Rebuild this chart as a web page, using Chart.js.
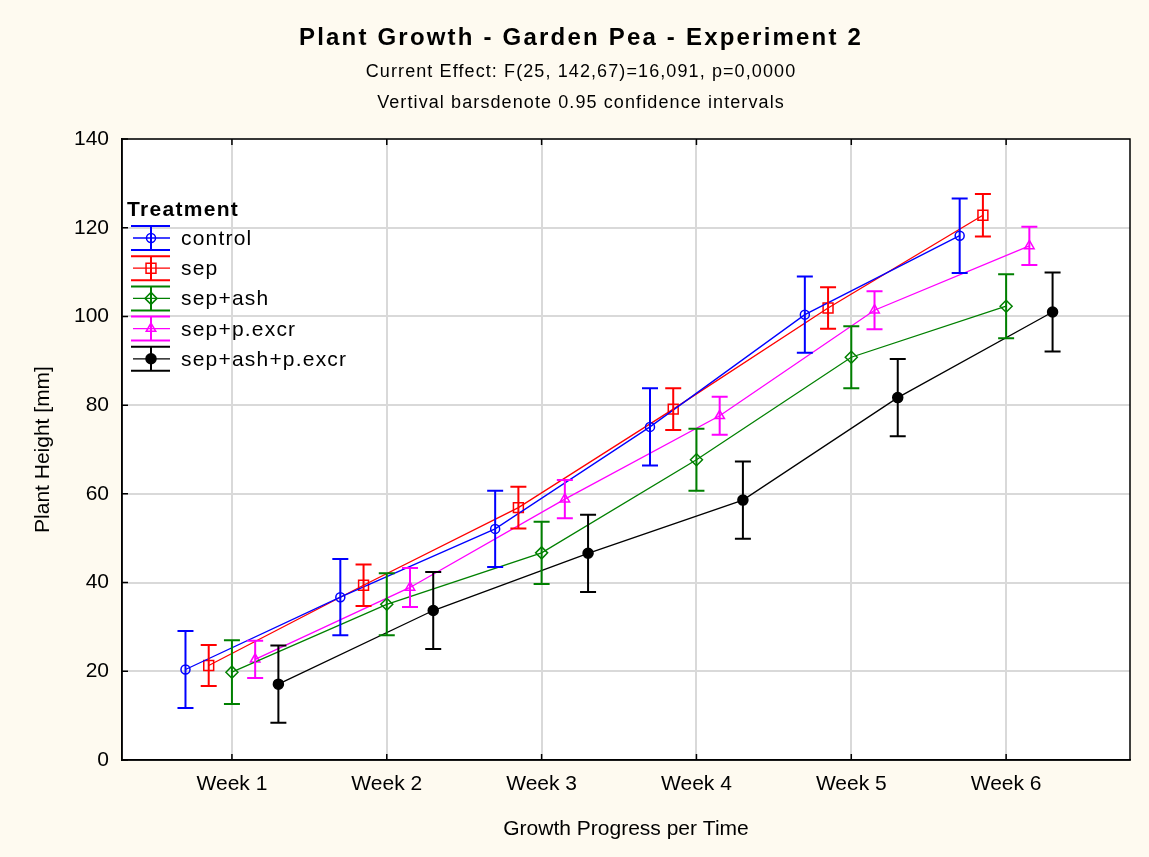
<!DOCTYPE html>
<html>
<head>
<meta charset="utf-8">
<script src="https://cdn.jsdelivr.net/npm/chart.js@4.4.1/dist/chart.umd.min.js"></script>
<style>
  html, body { margin: 0; padding: 0; background: #fefaf0; }
</style>
</head>
<body>
<canvas id="myChart" width="1149" height="857"></canvas>
<script>
let weeks = ['Week 1', 'Week 2', 'Week 3', 'Week 4', 'Week 5', 'Week 6']
let treatments = ['control', 'sep', 'sep+ash', 'sep+p.excr', 'sep+ash+p.excr']

// means and half widths of the 0.95 confidence intervals
let controlMean = [20.4, 36.7, 52.1, 75.1, 100.4, 118.2]
let controlCI = [8.7, 8.6, 8.6, 8.7, 8.6, 8.4]
let sepMean = [21.3, 39.4, 56.9, 79.1, 101.9, 122.8]
let sepCI = [4.6, 4.7, 4.7, 4.7, 4.7, 4.8]
let sepAshMean = [19.8, 35.1, 46.7, 67.7, 90.8, 102.3]
let sepAshCI = [7.2, 7.0, 7.0, 7.0, 7.0, 7.2]
let sepExcrMean = [22.7, 38.9, 58.8, 77.6, 101.4, 115.9]
let sepExcrCI = [4.2, 4.4, 4.3, 4.3, 4.3, 4.3]
let allMean = [17.1, 33.7, 46.6, 58.6, 81.7, 101.0]
let allCI = [8.7, 8.7, 8.7, 8.7, 8.7, 8.9]

let yTicks = [0, 20, 40, 60, 80, 100, 120, 140]

let titleText = 'Plant Growth - Garden Pea - Experiment 2'
let subtitleText = ['Current Effect: F(25, 142,67)=16,091, p=0,0000', 'Vertival barsdenote 0.95 confidence intervals']

let means = [controlMean, sepMean, sepAshMean, sepExcrMean, allMean]
let cis = [controlCI, sepCI, sepAshCI, sepExcrCI, allCI]
let colors = ['#0000ff', '#ff0000', '#008000', '#ff00ff', '#000000']
let styles = ['circle', 'rect', 'rectRot', 'triangle', 'circle']
let radii = [4.5, 7, 6, 5.5, 5]
let fills = ['rgba(0,0,0,0)', 'rgba(0,0,0,0)', 'rgba(0,0,0,0)', 'rgba(0,0,0,0)', '#000000']
let shift = [-0.3, -0.15, 0, 0.15, 0.3]

const FONT = "'Liberation Sans', Arial, sans-serif"
Chart.defaults.font.family = FONT
Chart.defaults.color = '#000'

let datasets = treatments.map((name, k) => ({
    label: name,
    data: means[k].map((m, i) => ({ x: i + 1 + shift[k], y: m })),
    borderColor: colors[k],
    backgroundColor: fills[k],
    borderWidth: 1.3,
    pointStyle: styles[k],
    pointRadius: radii[k],
    pointBorderWidth: 1.5,
    pointBorderColor: colors[k],
    pointBackgroundColor: fills[k],
    tension: 0
}))

function marker(ctx, style, x, y, r) {
    ctx.beginPath()
    if (style === 'circle') {
        ctx.arc(x, y, r, 0, Math.PI * 2)
    } else if (style === 'rect') {
        let s = r * Math.SQRT1_2
        ctx.rect(x - s, y - s, 2 * s, 2 * s)
    } else if (style === 'rectRot') {
        ctx.moveTo(x, y - r); ctx.lineTo(x + r, y); ctx.lineTo(x, y + r); ctx.lineTo(x - r, y)
    } else {
        let a = 0
        ctx.moveTo(x + Math.sin(a) * r, y - Math.cos(a) * r)
        a += Math.PI * 2 / 3
        ctx.lineTo(x + Math.sin(a) * r, y - Math.cos(a) * r)
        a += Math.PI * 2 / 3
        ctx.lineTo(x + Math.sin(a) * r, y - Math.cos(a) * r)
    }
    ctx.closePath()
}

const background = {
    id: 'background',
    beforeDraw(chart) {
        let { ctx, chartArea: a } = chart
        ctx.save()
        ctx.fillStyle = '#fefaf0'
        ctx.fillRect(0, 0, chart.width, chart.height)
        ctx.fillStyle = '#ffffff'
        ctx.fillRect(a.left, a.top, a.right - a.left, a.bottom - a.top)
        ctx.restore()
    }
}

const errorBars = {
    id: 'errorBars',
    afterDatasetsDraw(chart) {
        let ctx = chart.ctx
        let y = chart.scales.y
        ctx.save()
        ctx.lineWidth = 2
        chart.data.datasets.forEach((ds, k) => {
            let meta = chart.getDatasetMeta(k)
            ctx.strokeStyle = colors[k]
            meta.data.forEach((pt, i) => {
                let top = y.getPixelForValue(means[k][i] + cis[k][i])
                let bot = y.getPixelForValue(means[k][i] - cis[k][i])
                ctx.beginPath()
                ctx.moveTo(pt.x, top); ctx.lineTo(pt.x, bot)
                ctx.moveTo(pt.x - 8, top); ctx.lineTo(pt.x + 8, top)
                ctx.moveTo(pt.x - 8, bot); ctx.lineTo(pt.x + 8, bot)
                ctx.stroke()
            })
        })
        ctx.restore()
    }
}

const frameAndText = {
    id: 'frameAndText',
    afterDraw(chart) {
        let { ctx, chartArea: a } = chart
        let x = chart.scales.x, y = chart.scales.y
        ctx.save()
        // frame and inner tick marks
        ctx.strokeStyle = '#000'
        ctx.lineWidth = 1.5
        ctx.strokeRect(a.left, a.top, a.right - a.left, a.bottom - a.top)
        ctx.beginPath()
        weeks.forEach((w, i) => {
            let px = x.getPixelForValue(i + 1)
            ctx.moveTo(px, a.bottom); ctx.lineTo(px, a.bottom - 6)
            ctx.moveTo(px, a.top); ctx.lineTo(px, a.top + 6)
        })
        yTicks.forEach(v => {
            let py = y.getPixelForValue(v)
            ctx.moveTo(a.left, py); ctx.lineTo(a.left + 6, py)
        })
        ctx.stroke()

        // titles
        ctx.fillStyle = '#000'
        ctx.textAlign = 'center'
        ctx.textBaseline = 'alphabetic'
        ctx.font = 'bold 24px ' + FONT
        ctx.letterSpacing = '2.2px'
        ctx.fillText(titleText, 581, 45)
        ctx.font = '18px ' + FONT
        ctx.letterSpacing = '1.1px'
        subtitleText.forEach((t, i) => ctx.fillText(t, 581, 77 + i * 31))

        // legend
        ctx.textAlign = 'left'
        ctx.font = 'bold 21px ' + FONT
        ctx.letterSpacing = '1.3px'
        ctx.fillText('Treatment', 127, 216)
        ctx.font = '21px ' + FONT
        ctx.letterSpacing = '1.2px'
        treatments.forEach((name, k) => {
            let cy = 238 + k * 30.2
            ctx.strokeStyle = colors[k]
            ctx.lineWidth = 2
            ctx.beginPath()
            ctx.moveTo(131, cy - 12); ctx.lineTo(170, cy - 12)
            ctx.moveTo(131, cy + 12); ctx.lineTo(170, cy + 12)
            ctx.moveTo(151, cy - 12); ctx.lineTo(151, cy + 12)
            ctx.stroke()
            ctx.lineWidth = 1.3
            ctx.beginPath()
            ctx.moveTo(133, cy); ctx.lineTo(170, cy)
            ctx.stroke()
            ctx.lineWidth = 1.5
            ctx.fillStyle = fills[k]
            marker(ctx, styles[k], 151, cy, radii[k])
            ctx.fill()
            ctx.stroke()
            ctx.fillStyle = '#000'
            ctx.fillText(name, 181, cy + 7)
        })
        ctx.restore()
    }
}

let ctx = document.getElementById('myChart').getContext('2d')
new Chart(ctx, {
    type: 'line',
    data: { datasets: datasets },
    options: {
        responsive: false,
        animation: false,
        devicePixelRatio: 1,
        layout: { padding: { top: 139, right: 19, left: 0, bottom: 0 } },
        plugins: {
            legend: { display: false },
            tooltip: { enabled: false }
        },
        scales: {
            x: {
                type: 'linear',
                min: 0.29,
                max: 6.8,
                afterBuildTicks: s => { s.ticks = weeks.map((w, i) => ({ value: i + 1 })) },
                afterFit: s => { s.height = 97 },
                ticks: {
                    font: { size: 21 },
                    padding: 12,
                    callback: v => weeks[Math.round(v) - 1]
                },
                grid: { color: '#d9d9d9', lineWidth: 2, drawTicks: false },
                border: { display: true, color: '#000', width: 1.5 },
                title: {
                    display: true,
                    text: 'Growth Progress per Time',
                    font: { size: 21 },
                    padding: { top: 0, bottom: 15 }
                }
            },
            y: {
                min: 0,
                max: 140,
                afterBuildTicks: s => { s.ticks = yTicks.map(v => ({ value: v })) },
                afterFit: s => { s.width = 122 },
                ticks: { font: { size: 21 }, padding: 13 },
                grid: { color: '#d9d9d9', lineWidth: 2, drawTicks: false },
                border: { display: true, color: '#000', width: 1.5 },
                title: {
                    display: true,
                    text: 'Plant Height [mm]',
                    font: { size: 21 },
                    padding: { top: 31, bottom: 0 }
                }
            }
        }
    },
    plugins: [background, errorBars, frameAndText]
})
</script>
</body>
</html>
